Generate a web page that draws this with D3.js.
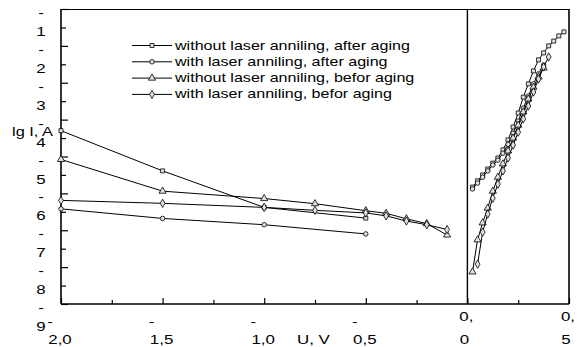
<!DOCTYPE html>
<html>
<head>
<meta charset="utf-8">
<script src="https://cdn.jsdelivr.net/npm/d3@7"></script>
<style>
  body { margin: 0; background: #fff; }
  svg { display: block; }
  text { font-family: "Liberation Sans", Arial, sans-serif; fill: #000; }
</style>
</head>
<body>
<svg width="579" height="347"></svg>
<script>
// axis ticks
const yTicks = [-1, -2, -3, -4, -5, -6, -7, -8, -9];
const yLabels = ['-1', '-2', '-3', '-4', '-5', '-6', '-7', '-8', '-9'];
const xTicks = [-2, -1.5, -1, -0.5, 0, 0.5];
const xLabels = ['-2,0', '-1,5', '-1,0', '-0,5', '0,0', '0,5'];

const seriesNames = [
  'without laser anniling, after aging',
  'with laser anniling, after aging',
  'without laser anniling, befor aging',
  'with laser anniling, befor aging'
];

// reverse branch (U < 0)
const revU4 = [-2, -1.5, -1, -0.5];
const revU9 = [-2, -1.5, -1, -0.75, -0.5, -0.4, -0.3, -0.2, -0.1];
const sqRev = [-4.30, -5.39, -6.38, -6.67];
const ciRev = [-6.42, -6.68, -6.85, -7.10];
const trRev = [-5.08, -5.94, -6.14, -6.28, -6.47, -6.54, -6.69, -6.82, -7.13];
const diRev = [-6.19, -6.27, -6.38, -6.46, -6.53, -6.61, -6.75, -6.85, -6.98];

// forward branch (U > 0)
const fwdU = [0.025, 0.05, 0.075, 0.1, 0.125, 0.15, 0.175, 0.2, 0.225, 0.25,
              0.275, 0.3, 0.325, 0.35, 0.375, 0.4, 0.425, 0.45, 0.475];
const sqFwd = [-5.83, -5.66, -5.50, -5.34, -5.18, -5.04, -4.82, -4.55, -4.20, -3.82,
               -3.39, -3.03, -2.68, -2.38, -2.19, -2.00, -1.87, -1.73, -1.62];
const ciFwd = [-5.88, -5.72, -5.56, -5.39, -5.23, -5.10, -4.91, -4.67, -4.37, -4.04,
               -3.69, -3.36, -3.03, -2.76, -2.52];
const trFwd = [-8.13, -7.26, -6.80, -6.40, -5.94, -5.56, -5.20, -4.85, -4.50, -4.15,
               -3.79, -3.44, -3.12, -2.84, -2.60];
const diFwdU = fwdU.slice(1, 16);
const diFwd = [-7.92, -7.05, -6.56, -6.13, -5.75, -5.39, -5.04, -4.69, -4.34, -3.98,
               -3.63, -3.25, -2.90, -2.57, -2.30];

const svg = d3.select('svg');
const x0 = 61, x1 = 569, y0 = 9, y1 = 304;

const x = d3.scaleLinear().domain([-2, 0.5]).range([x0, x1]);
const y = d3.scaleLinear().domain([-1, -9]).range([y0, y1]);

// horizontally stretched text like the scanned original
function label(px, py, str, size, anchor, sx) {
  return svg.append('text')
    .attr('transform', `translate(${px},${py}) scale(${sx},1)`)
    .attr('font-size', size)
    .attr('text-anchor', anchor)
    .text(str);
}

// minor ticks
svg.append('g')
  .attr('transform', `translate(${x0},0)`)
  .call(d3.axisLeft(y).tickValues(d3.range(-1.5, -9, -1)).tickSize(-5).tickFormat(''))
  .call(g => g.select('.domain').remove());
svg.append('g')
  .attr('transform', `translate(0,${y1})`)
  .call(d3.axisBottom(x).tickValues([-1.75, -1.25, -0.75, -0.25, 0.25]).tickSize(-4).tickFormat(''))
  .call(g => g.select('.domain').remove());

// major ticks
svg.append('g')
  .attr('transform', `translate(${x0},0)`)
  .call(d3.axisLeft(y).tickValues(yTicks).tickSize(-7).tickFormat(''))
  .call(g => g.select('.domain').remove());
svg.append('g')
  .attr('transform', `translate(0,${y1})`)
  .call(d3.axisBottom(x).tickValues(xTicks).tickSize(-6).tickFormat(''))
  .call(g => g.select('.domain').remove());

svg.selectAll('.tick line').attr('stroke', '#000').attr('stroke-width', 1.2);

// frame
svg.append('line').attr('x1', x0).attr('x2', x1).attr('y1', y0 + 0.5).attr('y2', y0 + 0.5)
  .attr('stroke', '#000').attr('stroke-width', 1);
svg.append('line').attr('x1', x0).attr('x2', x0).attr('y1', y0).attr('y2', y1)
  .attr('stroke', '#000').attr('stroke-width', 1.6);
svg.append('line').attr('x1', x0).attr('x2', x1).attr('y1', y1).attr('y2', y1)
  .attr('stroke', '#000').attr('stroke-width', 1.6);
svg.append('line').attr('x1', x1).attr('x2', x1).attr('y1', y0).attr('y2', y1)
  .attr('stroke', '#000').attr('stroke-width', 1.6);
svg.append('line').attr('x1', x(0)).attr('x2', x(0)).attr('y1', y0).attr('y2', y1)
  .attr('stroke', '#000').attr('stroke-width', 1.4);

// tick labels
yTicks.forEach((v, i) => {
  const s = yLabels[i];
  label(41, y(v) + 8, s[0], 13, 'middle', 1.3);
  label(41, y(v) + 27, s.slice(1), 13, 'middle', 1.3);
});
xTicks.forEach((v, i) => {
  const s = xLabels[i];
  if (s[0] === '-') {
    label(x(v) - 11, 325.5, '-', 13, 'middle', 1.3);
    label(x(v) - 1, 344, s.slice(1), 13, 'middle', 1.3);
  } else {
    const k = s.indexOf(',') + 1;
    label(x(v) - 1, 320.5, s.slice(0, k), 13, 'middle', 1.3);
    label(x(v) - 3, 344, s.slice(k), 13, 'middle', 1.3);
  }
});

// axis titles
label(12, 136, 'lg I, A', 13, 'start', 1.26);
label(297, 344, 'U, V', 13, 'start', 1.3);

// series
const shapes = [d3.symbolSquare, d3.symbolCircle, d3.symbolTriangle, d3.symbolDiamond];
const sizes = [16, 16, 22, 20];
const branches = [
  [[revU4, sqRev], [fwdU, sqFwd]],
  [[revU4, ciRev], [fwdU.slice(0, ciFwd.length), ciFwd]],
  [[revU9, trRev], [fwdU.slice(0, trFwd.length), trFwd]],
  [[revU9, diRev], [diFwdU, diFwd]]
];

const line = d3.line().x(d => x(d[0])).y(d => y(d[1]));

branches.forEach((br, s) => {
  const g = svg.append('g');
  br.forEach(([us, vs]) => {
    const pts = us.map((u, i) => [u, vs[i]]);
    g.append('path').attr('d', line(pts))
      .attr('fill', 'none').attr('stroke', '#000').attr('stroke-width', 1);
    g.selectAll(null).data(pts).enter().append('path')
      .attr('transform', d => `translate(${x(d[0])},${y(d[1])})`)
      .attr('d', d3.symbol().type(shapes[s]).size(sizes[s]))
      .attr('fill', '#e0e0e0').attr('stroke', '#000').attr('stroke-width', 0.8);
  });
});

// legend
seriesNames.forEach((name, i) => {
  const ly = 45.5 + i * 16.3;
  svg.append('line').attr('x1', 132).attr('x2', 172).attr('y1', ly).attr('y2', ly)
    .attr('stroke', '#000').attr('stroke-width', 1);
  svg.append('path').attr('transform', `translate(152,${ly})`)
    .attr('d', d3.symbol().type(shapes[i]).size(sizes[i]))
    .attr('fill', '#e0e0e0').attr('stroke', '#000').attr('stroke-width', 0.8);
  label(175, ly + 4, name, 12, 'start', 1.34);
});
</script>
</body>
</html>
